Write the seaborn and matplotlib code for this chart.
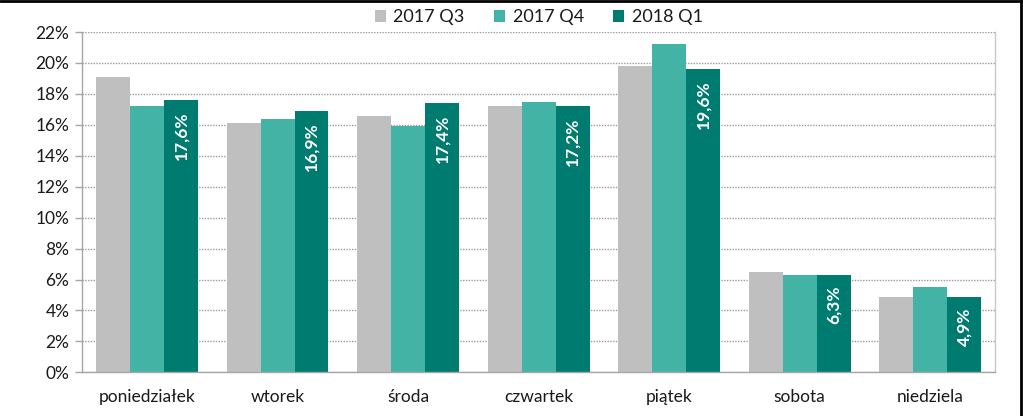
import matplotlib
matplotlib.use("Agg")
import matplotlib.pyplot as plt
import seaborn as sns
import pandas as pd
from matplotlib.ticker import FuncFormatter, FixedLocator
from matplotlib.lines import Line2D

days = ["poniedziałek", "wtorek", "środa", "czwartek", "piątek", "sobota", "niedziela"]
series_names = ["2017 Q3", "2017 Q4", "2018 Q1"]
q3_2017 = [19.1, 16.1, 16.6, 17.2, 19.8, 6.5, 4.9]
q4_2017 = [17.2, 16.4, 15.9, 17.5, 21.2, 6.3, 5.5]
q1_2018 = [17.6, 16.9, 17.4, 17.2, 19.6, 6.3, 4.9]
colors = ["#BFBFBF", "#43B3A5", "#007B6F"]

rows = []
for name, vals in zip(series_names, [q3_2017, q4_2017, q1_2018]):
    for d, v in zip(days, vals):
        rows.append({"day": d, "series": name, "value": v})
df = pd.DataFrame(rows)

sns.set_theme(style="white")
plt.rcParams["font.family"] = ["Lato", "DejaVu Sans"]

fig = plt.figure(figsize=(10.23, 4.16), dpi=100)
ax = fig.add_axes([0.080, 0.105, 0.893, 0.818])

sns.barplot(data=df, x="day", y="value", hue="series", palette=colors,
            width=0.78, saturation=1, ax=ax, order=days, hue_order=series_names,
            legend=True, errorbar=None, linewidth=0, edgecolor="none")

ax.set_ylim(0, 22)
ax.set_xlim(-0.5, len(days) - 0.5)
ax.yaxis.set_major_locator(FixedLocator(range(0, 23, 2)))
ax.yaxis.set_major_formatter(FuncFormatter(lambda v, p: f"{int(v)}%"))
ax.set_xlabel("")
ax.set_ylabel("")
ax.grid(axis="y", linestyle=(0, (1.0, 1.0)), color="#9A9A9A", linewidth=1.0)
ax.set_axisbelow(True)

for s in ["left", "bottom", "right"]:
    ax.spines[s].set_visible(True)
    ax.spines[s].set_color("#A6A6A6")
    ax.spines[s].set_linewidth(1.0)
ax.spines["top"].set_visible(False)
ax.spines["right"].set_color("#C8C8C8")

# x ticks between categories
ax.set_xticks(range(len(days)))
ax.set_xticklabels(days, fontsize=12.5, color="#1A1A1A")
ax.tick_params(axis="x", length=0, pad=12)
ax.set_xticks([i - 0.5 for i in range(len(days) + 1)], minor=True)
ax.tick_params(axis="x", which="minor", length=6, color="#A6A6A6", width=1)
ax.tick_params(axis="y", length=5, color="#A6A6A6", width=1, labelsize=12.5,
               labelcolor="#1A1A1A", pad=4, direction="out", left=True)

# labels on 2018 Q1 bars
cont = ax.containers[2]
for rect, v in zip(cont, q1_2018):
    x = rect.get_x() + rect.get_width() / 2
    top = rect.get_height()
    ax.annotate(f"{v:.1f}%".replace(".", ","), xy=(x, top), xytext=(0, -8),
                textcoords="offset points", rotation=90, ha="center", va="top",
                color="white", fontweight="bold", fontsize=12.5)

leg = ax.legend(loc="upper center", bbox_to_anchor=(0.5, 1.115), ncol=3, frameon=False,
                fontsize=13, handlelength=0.65, handleheight=0.65, handletextpad=0.4,
                columnspacing=1.6)
for t in leg.get_texts():
    t.set_color("#1A1A1A")

# figure border (top and right)
fig.add_artist(Line2D([0, 1], [0.998, 0.998], transform=fig.transFigure, color="black", linewidth=2))
fig.add_artist(Line2D([0.998, 0.998], [0, 1], transform=fig.transFigure, color="black", linewidth=2))

fig.savefig("out.png", dpi=100)
